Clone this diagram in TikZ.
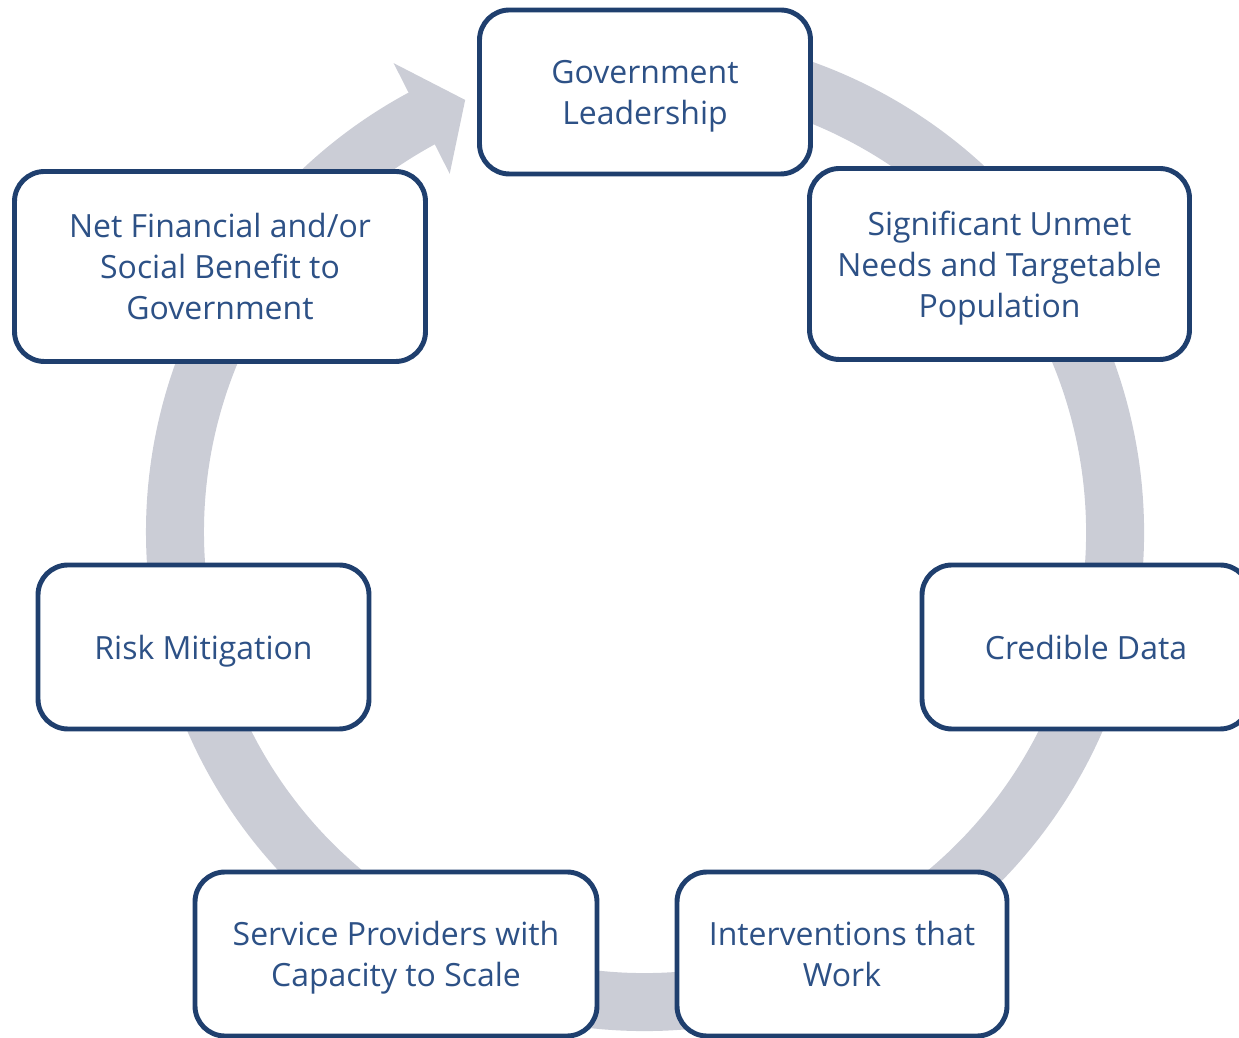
\documentclass[tikz,border=0pt]{standalone}
\usepackage{fontspec}
\setmainfont{Open Sans}
\usetikzlibrary{positioning}
\definecolor{ringgray}{HTML}{CBCDD6}
\definecolor{boxblue}{HTML}{1F3F6E}
\definecolor{textblue}{HTML}{2D5186}

\begin{document}
\begin{tikzpicture}[x=0.02cm,y=0.02cm,
    stage/.style={draw=boxblue, line width=2.8pt, fill=white, rounded corners=0.6cm,
      text=textblue, align=center, inner sep=0pt, text depth=0pt,
      font=\fontsize{18.2}{23.3}\selectfont}]
  \useasboundingbox (0,0) rectangle (1239,1037);
  \clip (0,0) rectangle (1239,1037);
  \coordinate (hub) at (645,505);
  \draw [ringgray, line width=1.16cm] ([shift={(100:470)}]hub) arc [start angle=100, end angle=-241.8, radius=470];
  \fill [ringgray] ([shift={(118.2:532)}]hub) -- ([shift={(112.6:468)}]hub) -- ([shift={(118.6:408)}]hub) -- cycle;
  \node [stage, minimum width=331*0.02cm, minimum height=164*0.02cm] (gov) at (645,945) {Government\\Leadership};
  \node [stage, minimum width=380*0.02cm, minimum height=191*0.02cm] (needs) at (999.5,773) {Significant Unmet\\Needs and Targetable\\Population};
  \node [stage, minimum width=328*0.02cm, minimum height=164*0.02cm] (data) at (1086,390) {Credible Data};
  \node [stage, minimum width=330*0.02cm, minimum height=164*0.02cm] (work) at (842,83) {Interventions that\\Work};
  \node [stage, minimum width=402*0.02cm, minimum height=164*0.02cm] (scale) at (396,83) {Service Providers with\\Capacity to Scale};
  \node [stage, minimum width=331*0.02cm, minimum height=164*0.02cm] (risk) at (203.5,390) {Risk Mitigation};
  \node [stage, minimum width=411*0.02cm, minimum height=190*0.02cm] (benefit) at (220,770.5) {Net Financial and/or\\Social Benefit to\\Government};
\end{tikzpicture}
\end{document}
